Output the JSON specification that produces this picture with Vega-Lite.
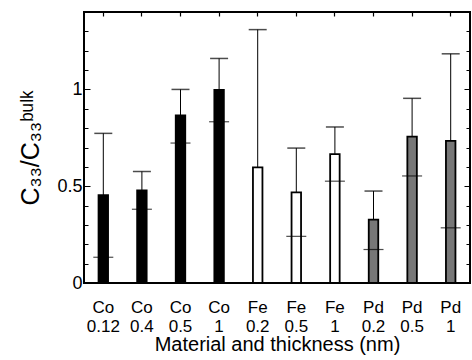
{
  "$schema": "https://vega.github.io/schema/vega-lite/v6.json",
  "width": 386,
  "height": 271,
  "autosize": "none",
  "padding": {"left": 84, "top": 12, "right": 2, "bottom": 77},
  "config": {
    "view": {"stroke": "black", "strokeWidth": 2},
    "font": "Liberation Sans",
    "axis": {
      "domain": false,
      "zindex": 1,
      "labelColor": "black",
      "titleColor": "black",
      "tickColor": "black",
      "tickWidth": 1.2,
      "gridColor": "black",
      "gridOpacity": 1,
      "gridWidth": 1.2,
      "titleFontWeight": "normal"
    }
  },
  "data": {
    "values": [
      {"label": "Co|0.12", "material": "Co", "val": 0.454, "hi": 0.773, "lo": 0.133},
      {"label": "Co|0.4", "material": "Co", "val": 0.479, "hi": 0.576, "lo": 0.381},
      {"label": "Co|0.5", "material": "Co", "val": 0.866, "hi": 1.0, "lo": 0.723},
      {"label": "Co|1", "material": "Co", "val": 0.998, "hi": 1.16, "lo": 0.833},
      {"label": "Fe|0.2", "material": "Fe", "val": 0.597, "hi": 1.309, "lo": null},
      {"label": "Fe|0.5", "material": "Fe", "val": 0.468, "hi": 0.697, "lo": 0.241},
      {"label": "Fe|1", "material": "Fe", "val": 0.666, "hi": 0.806, "lo": 0.526},
      {"label": "Pd|0.2", "material": "Pd", "val": 0.327, "hi": 0.475, "lo": 0.173},
      {"label": "Pd|0.5", "material": "Pd", "val": 0.756, "hi": 0.954, "lo": 0.553},
      {"label": "Pd|1", "material": "Pd", "val": 0.734, "hi": 1.184, "lo": 0.285}
    ]
  },
  "layer": [
    {
      "mark": {"type": "rule", "color": "black", "strokeWidth": 1},
      "encoding": {
        "x": {
          "field": "label", "type": "nominal", "sort": null,
          "scale": {"paddingInner": 0, "paddingOuter": 0},
          "axis": {
            "orient": "bottom", "ticks": false, "grid": false, "labelAngle": 0,
            "labelExpr": "split(datum.label, '|')",
            "labelFontSize": 17, "labelLineHeight": 19, "labelPadding": 16,
            "title": "Material and thickness (nm)", "titleFontSize": 20, "titlePadding": 0
          }
        },
        "y": {
          "field": "val", "type": "quantitative",
          "scale": {"domain": [0, 1.4], "nice": false, "zero": true},
          "axis": {
            "orient": "left", "ticks": false, "values": [0, 0.5, 1], "format": "~g",
            "grid": true, "gridDash": [6, 374, 6, 1000],
            "gridColor": "black", "gridOpacity": 1, "gridWidth": 1.2,
            "labelFontSize": 18, "labelPadding": 2,
            "title": "C₃₃/C₃₃ᵇᵘˡᵏ", "titleFontSize": 25, "titlePadding": 13
          }
        },
        "y2": {"field": "hi"}
      }
    },
    {
      "mark": {"type": "bar", "size": 9.5, "stroke": "black", "strokeWidth": 1.8},
      "encoding": {
        "x": {
          "field": "label", "type": "nominal", "sort": null,
          "axis": {"orient": "top", "labels": false, "grid": false, "tickSize": -4, "tickColor": "black", "tickWidth": 1.2, "title": null}
        },
        "y": {
          "field": "val", "type": "quantitative",
          "axis": {
            "orient": "right", "labels": false, "ticks": false, "title": null,
            "values": [0.1, 0.2, 0.3, 0.4, 0.6, 0.7, 0.8, 0.9, 1.1, 1.2, 1.3],
            "grid": true, "gridDash": [4, 378, 4, 1000],
            "gridColor": "black", "gridOpacity": 1, "gridWidth": 1.2
          }
        },
        "color": {
          "field": "material", "type": "nominal",
          "scale": {"domain": ["Co", "Fe", "Pd"], "range": ["black", "white", "#777777"]},
          "legend": null
        }
      }
    },
    {
      "mark": {"type": "tick", "color": "black", "size": 18, "thickness": 1.5},
      "encoding": {
        "x": {"field": "label", "type": "nominal", "sort": null, "axis": null},
        "y": {"field": "hi", "type": "quantitative", "axis": null}
      }
    },
    {
      "mark": {"type": "tick", "color": "black", "size": 20, "thickness": 1.2},
      "encoding": {
        "x": {"field": "label", "type": "nominal", "sort": null, "axis": null},
        "y": {"field": "lo", "type": "quantitative", "axis": null}
      }
    }
  ],
  "resolve": {"axis": {"x": "independent", "y": "independent"}}
}
